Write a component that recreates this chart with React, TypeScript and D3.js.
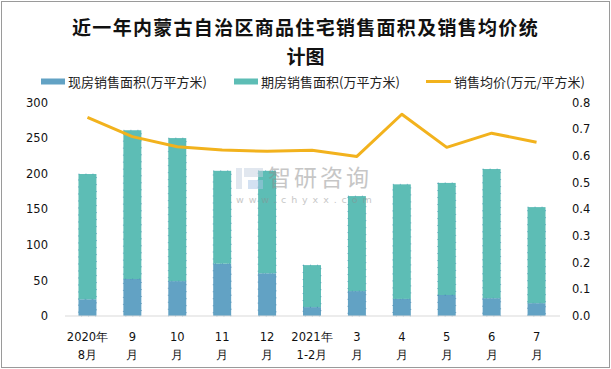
import React from 'react';
import * as d3 from 'd3';

const width = 611;
const height = 369;
const margin = {top: 102.5, right: 52, bottom: 53, left: 65};
const blue = '#62a2c4';
const teal = '#5dbdb5';
const gold = '#f2b21d';

const categories = ['2020年\n8月', '9\n月', '10\n月', '11\n月', '12\n月', '2021年\n1-2月', '3\n月', '4\n月', '5\n月', '6\n月', '7\n月'];
const spotArea = [23.5, 52, 49, 73.5, 60, 12.5, 35, 24, 29.5, 25, 18];
const totalArea = [199.5, 261, 250, 204, 204, 71.5, 168.5, 185, 187, 206.5, 153];
const avgPrice = [0.744, 0.672, 0.634, 0.622, 0.617, 0.621, 0.598, 0.756, 0.632, 0.685, 0.651];
const leftTicks = [0, 50, 100, 150, 200, 250, 300];
const rightTicks = [0, 0.1, 0.2, 0.3, 0.4, 0.5, 0.6, 0.7, 0.8];

const font = '"DejaVu Sans", sans-serif';
const cjk = '"Noto Sans CJK SC", sans-serif';

const App: React.FC = () => {
  const x = d3.scaleBand<string>()
    .domain(categories)
    .range([margin.left, width - margin.right])
    .paddingInner(0.6)
    .paddingOuter(0.3);
  const y = d3.scaleLinear().domain([0, 300]).range([height - margin.bottom, margin.top]);
  const y2 = d3.scaleLinear().domain([0, 0.8]).range([height - margin.bottom, margin.top]);

  const line = d3.line<number>()
    .x((_, i) => (x(categories[i]) as number) + x.bandwidth() / 2)
    .y(d => y2(d));

  const base = height - margin.bottom;

  return (
    <svg width={width} height={height} style={{position: 'absolute', left: 0, top: 0}}>
      <rect x={1.5} y={1.5} width={width - 3} height={height - 3} fill="#fff" stroke="#9a9a9a" />
      <text x={width / 2} y={35} textAnchor="middle" fontFamily={cjk}
        fontWeight="bold" fontSize={19} letterSpacing={1.3} fill="#111">近一年内蒙古自治区商品住宅销售面积及销售均价统</text>
      <text x={width / 2} y={63.5} textAnchor="middle" fontFamily={cjk}
        fontWeight="bold" fontSize={19} fill="#111">计图</text>

      <g fontFamily={cjk} fontSize={13} fill="#222">
        <rect x={41} y={78.5} width={24} height={6} fill={blue} />
        <text x={68} y={86.5}>现房销售面积(万平方米)</text>
        <rect x={234} y={78.5} width={24} height={6} fill={teal} />
        <text x={261} y={86.5}>期房销售面积(万平方米)</text>
        <line x1={426} x2={451} y1={81.5} y2={81.5} stroke={gold} strokeWidth={3} />
        <text x={454} y={86.5}>销售均价(万元/平方米)</text>
      </g>

      <g>
        {categories.map((c, i) => (
          <g key={c}>
            <rect x={x(c)} y={y(spotArea[i])} width={x.bandwidth()} height={base - y(spotArea[i])}
              fill={blue} stroke="#3d82ad" strokeWidth={0.6} strokeDasharray="1 6" />
            <rect x={x(c)} y={y(totalArea[i])} width={x.bandwidth()} height={y(spotArea[i]) - y(totalArea[i])}
              fill={teal} stroke="#3d8fb0" strokeWidth={0.6} strokeDasharray="1 6" />
          </g>
        ))}
      </g>

      <g opacity={0.5}>
        <rect x={236} y={168} width={6} height={21} fill="#c4d0e0" />
        <rect x={244} y={168} width={19} height={9} fill="#c4d0e0" />
        <rect x={248} y={180} width={15} height={9} fill="#a9c5e6" />
        <text x={268} y={186} fontFamily={cjk} fontSize={23} fill="#8f8f8f"
          letterSpacing={3}>智研咨询</text>
        <text x={236} y={203} fontFamily={font} fontSize={9.5} fill="#8f8f8f"
          letterSpacing={4.9}>www.chyxx.com</text>
      </g>

      <path d={line(avgPrice) || ''} fill="none" stroke={gold} strokeWidth={3} strokeLinejoin="round" />

      <line x1={margin.left} x2={width - margin.right + 1} y1={base} y2={base} stroke="#d9d9d9" strokeWidth={1} />

      <g fontFamily={font} fontSize={11.5} fill="#111">
        {leftTicks.map(t => (
          <text key={t} x={48} y={y(t)} dy="0.36em" textAnchor="end">{t}</text>
        ))}
        {rightTicks.map(t => (
          <text key={t} x={572} y={y2(t)} dy="0.36em">{t.toFixed(1)}</text>
        ))}
        {categories.map(c => {
          const [a, b] = c.split('\n');
          const cx = (x(c) as number) + x.bandwidth() / 2;
          return (
            <g key={c}>
              <text x={cx} y={337} dy="0.36em" textAnchor="middle">{a}</text>
              <text x={cx} y={355} dy="0.36em" textAnchor="middle">{b}</text>
            </g>
          );
        })}
      </g>
    </svg>
  );
};

export default App;
